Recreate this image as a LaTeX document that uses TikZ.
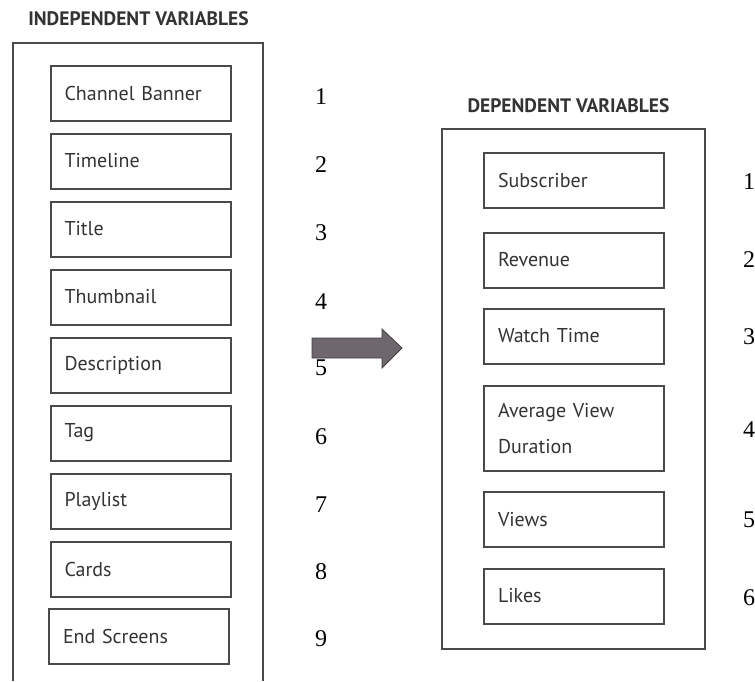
\documentclass[tikz,border=0pt]{standalone}
\usepackage{fontspec}
\setmainfont{Liberation Serif}
\setsansfont{PT Sans}
\usepackage{tikz}
\definecolor{framegray}{HTML}{4A4A4A}
\definecolor{labelgray}{HTML}{333333}
\definecolor{arrowfill}{HTML}{6E686C}
\definecolor{arrowedge}{HTML}{423D41}
\tikzset{
    varbox/.style={draw=framegray, line width=2pt, minimum height=55pt,
        inner sep=0pt, text width=152pt, minimum width=180pt, align=left,
        text=labelgray, font=\sffamily\fontsize{20}{24}\selectfont},
    headline/.style={text=labelgray, font=\sffamily\bfseries\fontsize{19.5}{22}\selectfont},
    itemno/.style={font=\rmfamily\fontsize{24}{26}\selectfont}
}

\begin{document}
\begin{tikzpicture}[x=1pt, y=-1pt]
    \useasboundingbox (0,0) rectangle (755,681);
    % Independent side
        \node[headline] (indeptitle) at (138.5,18.5) {INDEPENDENT VARIABLES};
        \draw[framegray, line width=2pt] (13,681) -- (13,43) -- (263,43) -- (263,681);
        \node[varbox] (banner) at (140.5,93) {Channel Banner};
        \node[varbox] (timeline) at (140.5,161) {Timeline};
        \node[varbox] (title) at (140.5,229) {Title};
        \node[varbox] (thumb) at (140.5,297) {Thumbnail};
        \node[varbox] (descr) at (140.5,365) {Description};
        \node[varbox] (tag) at (140.5,433) {Tag};
        \node[varbox] (playlist) at (140.5,501) {Playlist};
        \node[varbox] (cards) at (140.5,569) {Cards};
        \node[varbox] (endscr) at (139,636) {End Screens};
        % Numbers for the left column
        \node[itemno] (n1) at (321,97) {1};
        \node[itemno] (n2) at (321,165) {2};
        \node[itemno] (n3) at (321,233) {3};
        \node[itemno] (n4) at (321,302) {4};
        \node[itemno] (n5) at (321,368) {5};
        \node[itemno] (n6) at (321,437) {6};
        \node[itemno] (n7) at (321,505) {7};
        \node[itemno] (n8) at (321,572) {8};
        \node[itemno] (n9) at (321,639) {9};
    % Block arrow between the two sides
        \draw[fill=arrowfill, draw=arrowedge, line width=0.8pt]
            (312,338) -- (382,338) -- (382,329) -- (402,348) -- (382,368)
            -- (382,358) -- (312,358) -- cycle;
    % Dependent side
        \node[headline] (deptitle) at (568.5,106) {DEPENDENT VARIABLES};
        \draw[framegray, line width=2pt] (442,129) rectangle (705,649);
        \node[varbox] (subscr) at (574,180.5) {Subscriber};
        \node[varbox] (revenue) at (574,260) {Revenue};
        \node[varbox] (watch) at (574,336) {Watch Time};
        \node[varbox, minimum height=85pt, font=\sffamily\fontsize{20}{36}\selectfont]
            (avgview) at (574,428.5) {Average View\\Duration};
        \node[varbox] (views) at (574,519.5) {Views};
        \node[varbox] (likes) at (574,596) {Likes};
        % Numbers for the right column
        \node[itemno] (m1) at (749,182) {1};
        \node[itemno] (m2) at (749,260) {2};
        \node[itemno] (m3) at (749,337) {3};
        \node[itemno] (m4) at (749,430) {4};
        \node[itemno] (m5) at (749,520) {5};
        \node[itemno] (m6) at (749,598) {6};
\end{tikzpicture}
\end{document}
